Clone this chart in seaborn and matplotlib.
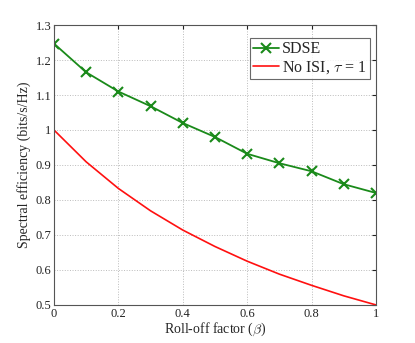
import matplotlib
matplotlib.use("Agg")
import matplotlib.pyplot as plt
import seaborn as sns
import pandas as pd

beta = [0.0, 0.1, 0.2, 0.3, 0.4, 0.5, 0.6, 0.7, 0.8, 0.9, 1.0]
sdse = [1.247, 1.165, 1.110, 1.068, 1.020, 0.980, 0.932, 0.905, 0.882, 0.845, 0.820]
no_isi = [1.000, 0.909, 0.833, 0.769, 0.714, 0.667, 0.625, 0.588, 0.556, 0.526, 0.500]
xticks = [0, 0.2, 0.4, 0.6, 0.8, 1]
xtick_labels = ["0", "0.2", "0.4", "0.6", "0.8", "1"]
yticks = [0.5, 0.6, 0.7, 0.8, 0.9, 1.0, 1.1, 1.2, 1.3]
ytick_labels = ["0.5", "0.6", "0.7", "0.8", "0.9", "1", "1.1", "1.2", "1.3"]

sns.set_style("white")
plt.rcParams["font.family"] = ["Liberation Serif", "DejaVu Serif"]
plt.rcParams["mathtext.fontset"] = "cm"

df1 = pd.DataFrame({"beta": beta, "val": sdse})
df2 = pd.DataFrame({"beta": beta, "val": no_isi})

green = "#1a8a1a"
fig = plt.figure(figsize=(4.15, 3.43), dpi=100)
ax = fig.add_axes([0.130, 0.111, 0.776, 0.816])

sns.lineplot(data=df1, x="beta", y="val", ax=ax, color=green, marker="x",
             markersize=7, markeredgewidth=1.5, markeredgecolor=green,
             linewidth=1.3, label="SDSE")
sns.lineplot(data=df2, x="beta", y="val", ax=ax, color="#ff1010",
             linewidth=1.2, label=r"No ISI, $\tau$ = 1")

ax.set_xlim(0, 1)
ax.set_ylim(0.5, 1.3)
ax.set_xticks(xticks)
ax.set_xticklabels(xtick_labels)
ax.set_yticks(yticks)
ax.set_yticklabels(ytick_labels)
ax.tick_params(direction="in", length=3, labelsize=9, colors="#222222",
               top=True, right=True, pad=2)
ax.grid(True, linestyle=":", color="#bbbbbb", linewidth=0.7)
for s in ax.spines.values():
    s.set_color("#555555")
    s.set_linewidth(0.8)

ax.set_xlabel(r"Roll-off factor ($\beta$)", fontsize=10, labelpad=1)
ax.set_ylabel("Spectral efficiency (bits/s/Hz)", fontsize=10, labelpad=3)

leg = ax.legend(loc="upper right", bbox_to_anchor=(0.99, 0.965), fontsize=11.5,
                frameon=True, fancybox=False, handlelength=1.6, handletextpad=0.2,
                borderpad=0.2, labelspacing=0.1, borderaxespad=0.2)
leg.get_frame().set_edgecolor("#444444")
leg.get_frame().set_linewidth(0.8)

fig.savefig("out.png", dpi=100)
